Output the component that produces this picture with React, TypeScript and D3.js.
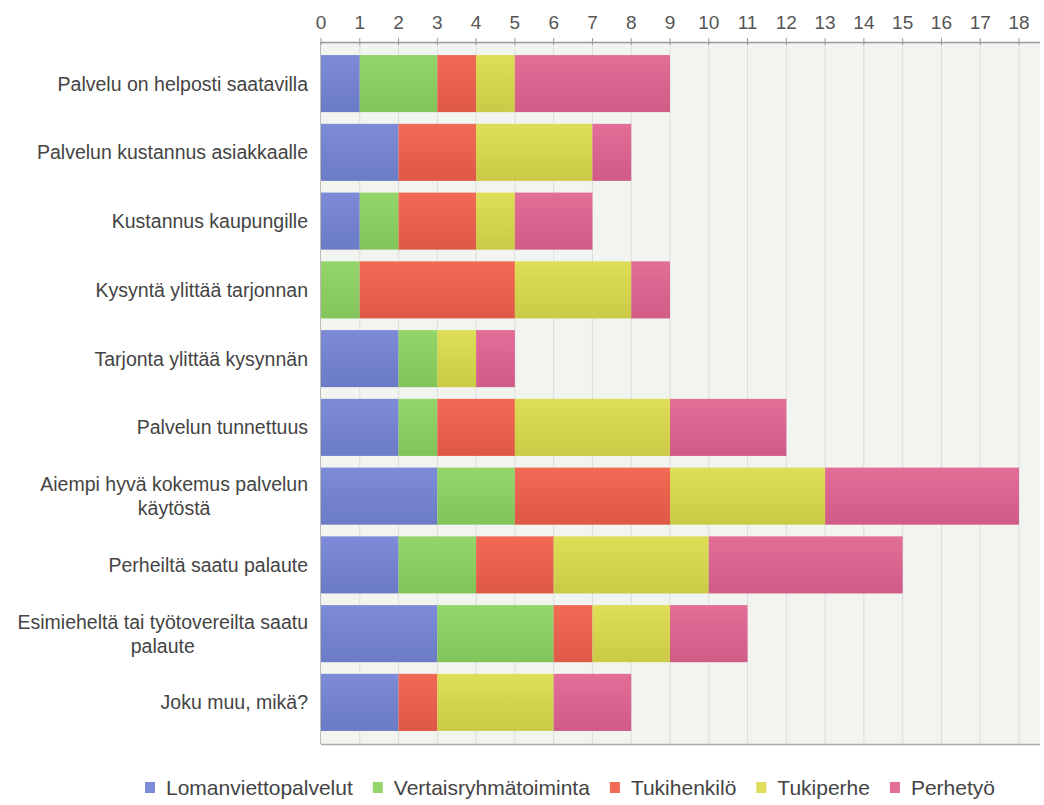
import * as d3 from 'd3';
import { useEffect, useRef } from 'react';

const categories = [
  'Palvelu on helposti saatavilla',
  'Palvelun kustannus asiakkaalle',
  'Kustannus kaupungille',
  'Kysyntä ylittää tarjonnan',
  'Tarjonta ylittää kysynnän',
  'Palvelun tunnettuus',
  'Aiempi hyvä kokemus palvelun käytöstä',
  'Perheiltä saatu palaute',
  'Esimieheltä tai työtovereilta saatu palaute',
  'Joku muu, mikä?',
];

const seriesNames = ['Lomanviettopalvelut', 'Vertaisryhmätoiminta', 'Tukihenkilö', 'Tukiperhe', 'Perhetyö'];

const lomanvietto = [1, 2, 1, 0, 2, 2, 3, 2, 3, 2];
const vertaisryhma = [2, 0, 1, 1, 1, 1, 2, 2, 3, 0];
const tukihenkilo = [1, 2, 2, 4, 0, 2, 4, 2, 1, 1];
const tukiperhe = [1, 3, 1, 3, 1, 4, 4, 4, 2, 3];
const perhetyo = [4, 1, 2, 1, 1, 3, 5, 5, 2, 2];

const ticks = d3.range(0, 19);

const colors = [
  ['#7d8bd8', '#6c7bc6'],
  ['#94d66c', '#82c45a'],
  ['#f26a55', '#de5846'],
  ['#dede58', '#caca46'],
  ['#e36e98', '#cf5b86'],
];

const FONT = '"Liberation Sans", Arial, sans-serif';
const W = 1044;
const H = 805;

export default function App() {
  const ref = useRef<SVGSVGElement>(null);

  useEffect(() => {
    if (!ref.current) return;
    const svg = d3.select(ref.current);
    svg.selectAll('*').remove();

    const left = 321, right = 1040, top = 42, bottom = 744;
    const x = d3.scaleLinear().domain([0, 18]).range([left, 1019]);
    const y = d3.scaleBand().domain(categories).range([top, bottom]).paddingInner(0.17).paddingOuter(0.19);

    const defs = svg.append('defs');
    colors.forEach((c, i) => {
      const g = defs.append('linearGradient').attr('id', `g${i}`).attr('x1', 0).attr('y1', 0).attr('x2', 0).attr('y2', 1);
      g.append('stop').attr('offset', '0%').attr('stop-color', c[0]);
      g.append('stop').attr('offset', '100%').attr('stop-color', c[1]);
    });

    // plot background
    svg.append('rect').attr('x', left).attr('y', top).attr('width', right - left).attr('height', bottom - top).attr('fill', '#f2f4f0');

    // grid
    svg.append('g').selectAll('line').data(ticks.slice(1)).join('line')
      .attr('x1', d => x(d)).attr('x2', d => x(d)).attr('y1', top).attr('y2', bottom)
      .attr('stroke', '#dcdedb').attr('stroke-width', 1);

    // stacked bars
    const rows = categories.map((c, i) => ({
      cat: c,
      vals: [lomanvietto[i], vertaisryhma[i], tukihenkilo[i], tukiperhe[i], perhetyo[i]],
    }));
    const stack = d3.stack<{ cat: string; vals: number[] }, number>()
      .keys([0, 1, 2, 3, 4])
      .value((d, k) => d.vals[k]);
    const layers = stack(rows);

    svg.append('g').selectAll('g').data(layers).join('g')
      .attr('fill', (_, i) => `url(#g${i})`)
      .selectAll('rect').data(d => d.filter(s => s[1] > s[0])).join('rect')
      .attr('x', d => x(d[0]))
      .attr('width', d => x(d[1]) - x(d[0]))
      .attr('y', d => y(d.data.cat)!)
      .attr('height', y.bandwidth());

    // axes lines
    svg.append('line').attr('x1', left).attr('x2', right).attr('y1', top + 0.5).attr('y2', top + 0.5).attr('stroke', '#999').attr('stroke-width', 1.5);
    svg.append('line').attr('x1', left).attr('x2', right).attr('y1', bottom + 0.5).attr('y2', bottom + 0.5).attr('stroke', '#aaa').attr('stroke-width', 1.5);
    svg.append('line').attr('x1', left - 0.5).attr('x2', left - 0.5).attr('y1', top).attr('y2', bottom).attr('stroke', '#bbb');

    // top ticks
    const tg = svg.append('g');
    tg.selectAll('line').data(ticks).join('line')
      .attr('x1', d => x(d)).attr('x2', d => x(d)).attr('y1', top - 4).attr('y2', top + 3)
      .attr('stroke', '#999');
    tg.selectAll('text').data(ticks).join('text')
      .attr('x', d => x(d)).attr('y', 29)
      .attr('text-anchor', 'middle')
      .attr('font-family', FONT).attr('font-size', 19).attr('fill', '#555')
      .text(d => d);

    // category labels with wrapping
    const lg = svg.append('g');
    const maxW = 300;
    const labelRight = 308;
    categories.forEach(cat => {
      const t = lg.append('text').attr('font-family', FONT).attr('font-size', 19.5).attr('fill', '#444');
      const words = cat.split(' ');
      const lines: string[] = [];
      let cur = '';
      const measure = (s: string) => {
        t.text(s);
        return (t.node() as SVGTextElement).getComputedTextLength();
      };
      words.forEach(w => {
        const test = cur ? cur + ' ' + w : w;
        if (cur && measure(test) > maxW) {
          lines.push(cur);
          cur = w;
        } else cur = test;
      });
      lines.push(cur);
      const widths = lines.map(measure);
      t.text(null);
      const bw = Math.max(...widths);
      const cy = y(cat)! + y.bandwidth() / 2;
      const lh = 24;
      if (lines.length === 1) {
        t.attr('text-anchor', 'end');
        t.append('tspan').attr('x', labelRight).attr('y', cy + 7).text(lines[0]);
      } else {
        t.attr('text-anchor', 'middle');
        lines.forEach((l, i) => {
          t.append('tspan').attr('x', labelRight - bw / 2)
            .attr('y', cy + 7 + (i - (lines.length - 1) / 2) * lh).text(l);
        });
      }
    });

    // legend
    const leg = svg.append('g');
    let lx = 145;
    const ly = 788;
    seriesNames.forEach((name, i) => {
      leg.append('rect').attr('x', lx).attr('y', ly - 6).attr('width', 10).attr('height', 11).attr('fill', colors[i][0]);
      const t = leg.append('text').attr('x', lx + 21).attr('y', ly + 7)
        .attr('font-family', FONT).attr('font-size', 21).attr('fill', '#444').text(name);
      const w = (t.node() as SVGTextElement).getComputedTextLength();
      lx += 21 + w + 20;
    });
  }, []);

  return (
    <svg ref={ref} width={W} height={H} style={{ position: 'absolute', left: 0, top: 0, background: '#fff' }} />
  );
}
